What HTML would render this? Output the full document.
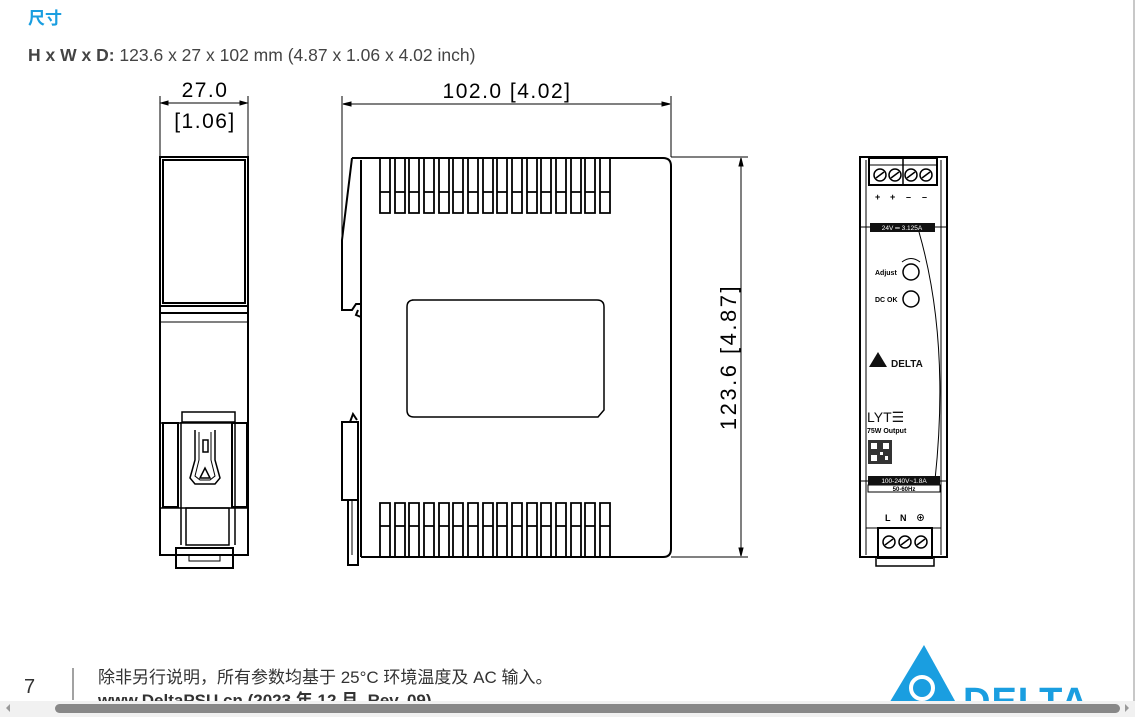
<!DOCTYPE html>
<html><head><meta charset="utf-8"><style>
html,body{margin:0;padding:0;background:#fff;}
body{width:1135px;height:717px;overflow:hidden;position:relative;font-family:"Liberation Sans","Noto Sans CJK SC",sans-serif;}
svg{position:absolute;left:0;top:0;}
</style></head><body>
<svg width="1135" height="717" viewBox="0 0 1135 717" xmlns="http://www.w3.org/2000/svg" font-family="Liberation Sans, Noto Sans CJK SC, sans-serif">
<rect x="1133" y="0" width="2" height="717" fill="#c8c8c8"/>
<text x="28" y="24" font-size="17" font-weight="bold" fill="#1a9ee0">尺寸</text>
<text x="28" y="61" font-size="17.5" fill="#444"><tspan font-weight="bold">H x W x D:</tspan> 123.6 x 27 x 102 mm (4.87 x 1.06 x 4.02 inch)</text>

<g stroke="#000" fill="none" stroke-width="1">
<line x1="160" y1="96" x2="160" y2="157"/><line x1="248" y1="96" x2="248" y2="157"/>
<line x1="161" y1="103" x2="247" y2="103"/>
<path d="M161 103 l7 -2 v4z M247 103 l-7 -2 v4z" fill="#000"/>
<line x1="342" y1="96" x2="342" y2="240"/><line x1="671" y1="96" x2="671" y2="157"/>
<line x1="343" y1="104" x2="670" y2="104"/>
<path d="M343 104 l8 -2 v4z M670 104 l-8 -2 v4z" fill="#000"/>
<line x1="671" y1="157" x2="748" y2="157"/><line x1="671" y1="557" x2="748" y2="557"/>
<line x1="741" y1="158" x2="741" y2="556"/>
<path d="M741 158 l-2 8 h4z M741 556 l-2 -8 h4z" fill="#000"/>
</g>
<g font-size="21" fill="#000" letter-spacing="1.5">
<text x="205" y="97" text-anchor="middle">27.0</text>
<text x="205" y="128" text-anchor="middle">[1.06]</text>
<text x="507" y="98" text-anchor="middle">102.0  [4.02]</text>
<text transform="translate(736,357) rotate(-90)" text-anchor="middle" font-size="22" letter-spacing="2.5">123.6  [4.87]</text>
</g>

<g stroke="#000" fill="none">
<rect x="160" y="157" width="88" height="398" stroke-width="2"/>
<rect x="163" y="160" width="82" height="143" stroke-width="2"/>
<line x1="160" y1="306" x2="248" y2="306" stroke-width="2"/>
<line x1="160" y1="313" x2="248" y2="313" stroke-width="2"/>
<line x1="160" y1="322" x2="248" y2="322"/>
<path d="M182 412 V422 H235 V412 Z" stroke-width="1.5"/>
<rect x="163" y="423" width="15" height="84" stroke-width="2"/>
<rect x="232" y="423" width="15" height="84" stroke-width="2"/>
<line x1="160" y1="423" x2="248" y2="423" stroke-width="1.5"/>
<line x1="160" y1="508" x2="248" y2="508" stroke-width="1.5"/>
<path d="M181 422 V545 M235 422 V545" stroke-width="1.5"/>
<path d="M186 508 H229 V545 H186Z" stroke-width="1.5"/>
<path d="M195 430 V460 L190 478 L195 484 H215 L220 478 L215 460 V430" stroke-width="1.5"/>
<path d="M199 432 V460 L195 476 L200 480 H210 L215 476 L211 460 V432" stroke-width="1"/>
<rect x="203" y="440" width="5" height="12" stroke-width="1.5"/>
<path d="M200 478 L205 468 L210 478Z" stroke-width="1.5"/>
<rect x="176" y="548" width="57" height="20" stroke-width="2"/>
<rect x="189" y="555" width="31" height="6" stroke-width="1"/>
</g>

<g stroke="#000" fill="none" stroke-width="2">
<path d="M352 158 H663 Q671 158 671 166 V549 Q671 557 663 557 H361"/>
<line x1="361" y1="160" x2="361" y2="557"/>
<path d="M352 158 L342 240 V310 H352 L356 304 H361 M361 317 L356 315 L358 310"/>
<path d="M342 422 H358 V500 H342 Z"/>
<path d="M350 422 L353 414 L357 420"/>
<path d="M348 500 V565 H358 V500"/>
<line x1="352" y1="500" x2="352" y2="555" stroke-width="1"/>
<path d="M412 300 H597 Q604 300 604 307 V410 L598 417 H414 Q407 417 407 410 V307 Q407 300 414 300Z" stroke-width="1.5"/>
</g>
<g stroke="#000" fill="none" stroke-width="1.8">
<path d="M380 158 V213 H390 V158 M380 192 H390 M395 158 V213 H405 V158 M395 192 H405 M409 158 V213 H419 V158 M409 192 H419 M424 158 V213 H434 V158 M424 192 H434 M439 158 V213 H449 V158 M439 192 H449 M453 158 V213 H463 V158 M453 192 H463 M468 158 V213 H478 V158 M468 192 H478 M483 158 V213 H493 V158 M483 192 H493 M497 158 V213 H507 V158 M497 192 H507 M512 158 V213 H522 V158 M512 192 H522 M527 158 V213 H537 V158 M527 192 H537 M541 158 V213 H551 V158 M541 192 H551 M556 158 V213 H566 V158 M556 192 H566 M571 158 V213 H581 V158 M571 192 H581 M585 158 V213 H595 V158 M585 192 H595 M600 158 V213 H610 V158 M600 192 H610"/>
<path d="M380 557 V503 H390 V557 M380 526 H390 M395 557 V503 H405 V557 M395 526 H405 M409 557 V503 H419 V557 M409 526 H419 M424 557 V503 H434 V557 M424 526 H434 M439 557 V503 H449 V557 M439 526 H449 M453 557 V503 H463 V557 M453 526 H463 M468 557 V503 H478 V557 M468 526 H478 M483 557 V503 H493 V557 M483 526 H493 M497 557 V503 H507 V557 M497 526 H507 M512 557 V503 H522 V557 M512 526 H522 M527 557 V503 H537 V557 M527 526 H537 M541 557 V503 H551 V557 M541 526 H551 M556 557 V503 H566 V557 M556 526 H566 M571 557 V503 H581 V557 M571 526 H581 M585 557 V503 H595 V557 M585 526 H595 M600 557 V503 H610 V557 M600 526 H610"/>
</g>

<g stroke="#000" fill="none">
<rect x="860" y="157" width="87" height="400" stroke-width="2"/>
<line x1="866" y1="160" x2="866" y2="555" stroke-width="1"/>
<line x1="941" y1="160" x2="941" y2="555" stroke-width="1"/>
<rect x="869" y="158" width="68" height="27" stroke-width="2"/>
<line x1="903" y1="158" x2="903" y2="185" stroke-width="1.5"/>
<line x1="869" y1="165" x2="937" y2="165" stroke-width="1"/>
<g stroke-width="1.5">
<circle cx="880" cy="175" r="6"/><circle cx="895" cy="175" r="6"/><circle cx="911" cy="175" r="6"/><circle cx="926" cy="175" r="6"/>
<path d="M876 178 L884 172 M891 178 L899 172 M907 178 L915 172 M922 178 L930 172"/>
</g>
<line x1="860" y1="227" x2="947" y2="227" stroke-width="1"/>
<path d="M919 232 Q950 340 935 480" stroke-width="1"/>
<circle cx="911" cy="272" r="8" stroke-width="1.5"/>
<circle cx="911" cy="299" r="8" stroke-width="1.5"/>
<path d="M902 262 Q911 255 920 262" stroke-width="1"/>
<line x1="860" y1="481" x2="947" y2="481" stroke-width="1"/>
<rect x="868" y="485" width="72" height="7" stroke-width="1"/>
<rect x="878" y="528" width="54" height="30" stroke-width="2"/>
<line x1="866" y1="528" x2="941" y2="528" stroke-width="1"/>
<g stroke-width="1.5">
<circle cx="889" cy="542" r="6"/><circle cx="905" cy="542" r="6"/><circle cx="921" cy="542" r="6"/>
<path d="M885 545 L893 539 M901 545 L909 539 M917 545 L925 539"/>
</g>
<path d="M876 558 V566 H934 V558" stroke-width="1.5"/>
</g>
<g font-size="9" font-weight="bold" fill="#000">
<text x="875" y="200">+</text><text x="890" y="200">+</text><text x="906" y="200">–</text><text x="922" y="200">–</text>
</g>
<rect x="870" y="223" width="65" height="9" fill="#111"/>
<text x="902" y="230" font-size="6.5" fill="#fff" text-anchor="middle">24V ═ 3.125A</text>
<text x="875" y="275" font-size="7" font-weight="bold">Adjust</text>
<text x="875" y="302" font-size="7" font-weight="bold">DC OK</text>
<path d="M869 367 L878 352 L887 367Z" fill="#111"/>
<text x="891" y="367" font-size="10" font-weight="bold" fill="#111">DELTA</text>
<text x="867" y="422" font-size="14" fill="#111">LYT☰</text>
<text x="867" y="433" font-size="7" font-weight="bold">75W Output</text>
<rect x="868" y="440" width="24" height="24" fill="#333"/>
<rect x="871" y="443" width="6" height="6" fill="#fff"/><rect x="883" y="443" width="6" height="6" fill="#fff"/><rect x="871" y="455" width="6" height="6" fill="#fff"/><rect x="880" y="452" width="3" height="3" fill="#fff"/><rect x="885" y="456" width="3" height="4" fill="#fff"/>
<rect x="868" y="476" width="72" height="9" fill="#111"/>
<text x="904" y="483" font-size="6.5" fill="#fff" text-anchor="middle">100-240V~1.8A</text>
<text x="904" y="491" font-size="6" font-weight="bold" text-anchor="middle">50-60Hz</text>
<text x="885" y="521" font-size="9" font-weight="bold">L</text>
<text x="900" y="521" font-size="9" font-weight="bold">N</text>
<text x="916" y="521" font-size="9" font-weight="bold">⊕</text>

<text x="24" y="693" font-size="20" fill="#333">7</text>
<line x1="73" y1="668" x2="73" y2="700" stroke="#444" stroke-width="1"/>
<text x="98" y="683" font-size="17" fill="#333">除非另行说明，所有参数均基于 25°C 环境温度及 AC 输入。</text>
<text x="98" y="706" font-size="17" font-weight="bold" fill="#333">www.DeltaPSU.cn (2023 年 12 月, Rev. 09)</text>
<path d="M924 645 L960 710 H885Z" fill="#1a9ee0"/>
<circle cx="922" cy="688" r="11" fill="none" stroke="#fff" stroke-width="4"/>
<text x="963" y="714" font-size="38" font-weight="bold" fill="#1a9ee0" letter-spacing="1">DELTA</text>
<rect x="0" y="701" width="1135" height="16" fill="#f1f1f1"/>
<rect x="55" y="704" width="1065" height="9" rx="4.5" fill="#888"/>
<path d="M6 708 l4 -4 v8z M1129 708 l-4 -4 v8z" fill="#999"/>
</svg>
</body></html>
